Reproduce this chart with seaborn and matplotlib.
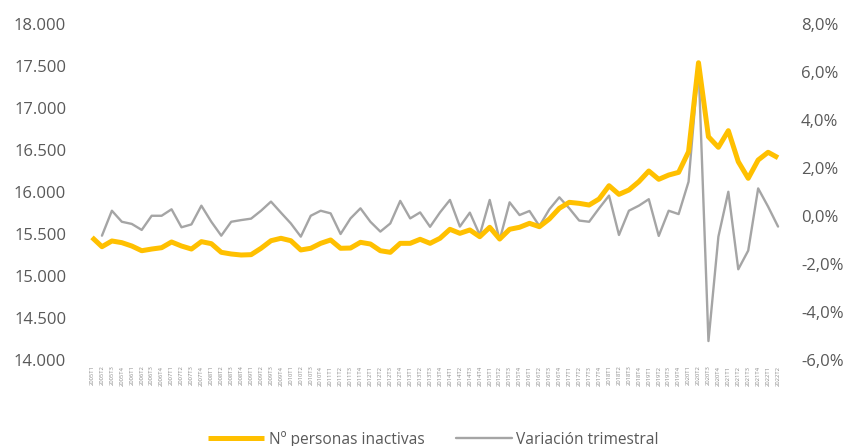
import matplotlib
matplotlib.use("Agg")
import matplotlib.pyplot as plt
import seaborn as sns
import pandas as pd

# trimestres 2005T1 .. 2022T2
trimestres = [f"{a}T{q}" for a in range(2005, 2023) for q in range(1, 5)][:70]

# miles de personas inactivas
inactivos = [
    15460, 15349, 15417, 15397, 15357, 15301, 15321, 15337, 15405, 15357,
    15321, 15409, 15385, 15282, 15262, 15250, 15254, 15330, 15420, 15449,
    15420, 15310, 15330, 15389, 15429, 15330, 15333, 15401, 15381, 15301,
    15282, 15389, 15389, 15437, 15389, 15449, 15556, 15508, 15548, 15468,
    15580, 15440, 15556, 15580, 15627, 15587, 15679, 15806, 15877, 15865,
    15845, 15917, 16075, 15972, 16024, 16123, 16250, 16151, 16202, 16234,
    16480, 17539, 16658, 16532, 16730, 16361, 16163, 16381, 16473, 16408,
]

# variacion trimestral (%), sin dato el primer trimestre
variacion = [
    None, -0.82, 0.22, -0.24, -0.33, -0.58, 0.01, 0.01, 0.28, -0.47,
    -0.35, 0.43, -0.24, -0.82, -0.24, -0.17, -0.11, 0.22, 0.60, 0.14,
    -0.31, -0.86, 0.01, 0.22, 0.11, -0.75, -0.10, 0.32, -0.24, -0.65,
    -0.31, 0.63, -0.10, 0.15, -0.45, 0.15, 0.67, -0.44, 0.14, -0.79,
    0.67, -1.00, 0.57, 0.04, 0.21, -0.42, 0.28, 0.78, 0.32, -0.19,
    -0.24, 0.32, 0.85, -0.79, 0.22, 0.43, 0.70, -0.83, 0.22, 0.08,
    1.43, 6.30, -5.21, -0.86, 1.01, -2.22, -1.44, 1.15, 0.39, -0.44,
]

df = pd.DataFrame({
    "pos": range(len(trimestres)),
    "trimestre": trimestres,
    "inactivos": inactivos,
    "variacion": pd.to_numeric(pd.Series(variacion, dtype="object")),
})

sns.set_style("white")
plt.rcParams["font.family"] = ["Open Sans", "DejaVu Sans"]

AMARILLO = "#FFC000"
GRIS = "#A5A5A5"
TEXTO = "#595959"

fig, ax = plt.subplots(figsize=(8.5, 4.46), dpi=100)
fig.subplots_adjust(left=0.1024, right=0.9212, bottom=0.1928, top=0.9462)
ax2 = ax.twinx()

sns.lineplot(data=df, x="pos", y="inactivos", ax=ax, color=AMARILLO,
             linewidth=3.6, label="Nº personas inactivas", legend=False,
             solid_joinstyle="round", solid_capstyle="butt")
sns.lineplot(data=df, x="pos", y="variacion", ax=ax2, color=GRIS,
             linewidth=1.7, label="Variación trimestral", legend=False)
ax.set_zorder(ax2.get_zorder() + 1)
ax.patch.set_visible(False)

ax.set_xlim(-0.5, len(trimestres) - 0.5)
ax.set_ylim(14000, 18000)
ax.set_yticks(range(14000, 18001, 500))
ax.set_yticklabels([f"{v:,.0f}".replace(",", ".") for v in range(14000, 18001, 500)])
ax2.set_ylim(-6, 8)
ax2.set_yticks(range(-6, 9, 2))
ax2.set_yticklabels([f"{v:.1f}%".replace(".", ",") for v in range(-6, 9, 2)])

ax.set_xticks(df["pos"])
ax.set_xticklabels(trimestres, rotation=90, fontsize=4.2, color="#8c8c8c")
ax.set_xlabel("")
ax.set_ylabel("")
ax2.set_ylabel("")

for a in (ax, ax2):
    for s in a.spines.values():
        s.set_visible(False)
    a.tick_params(length=0)
ax.tick_params(axis="y", labelsize=12, labelcolor=TEXTO, pad=15)
ax2.tick_params(axis="y", labelsize=12, labelcolor=TEXTO, pad=13)
ax.tick_params(axis="x", pad=4)

h1, l1 = ax.get_legend_handles_labels()
h2, l2 = ax2.get_legend_handles_labels()
fig.legend(h1 + h2, l1 + l2, loc="lower center", ncol=2, frameon=False,
           bbox_to_anchor=(0.51, -0.035), fontsize=11.2, labelcolor=TEXTO,
           handlelength=3.6, handletextpad=0.3, columnspacing=2.0)

fig.savefig("out.png", dpi=100)
